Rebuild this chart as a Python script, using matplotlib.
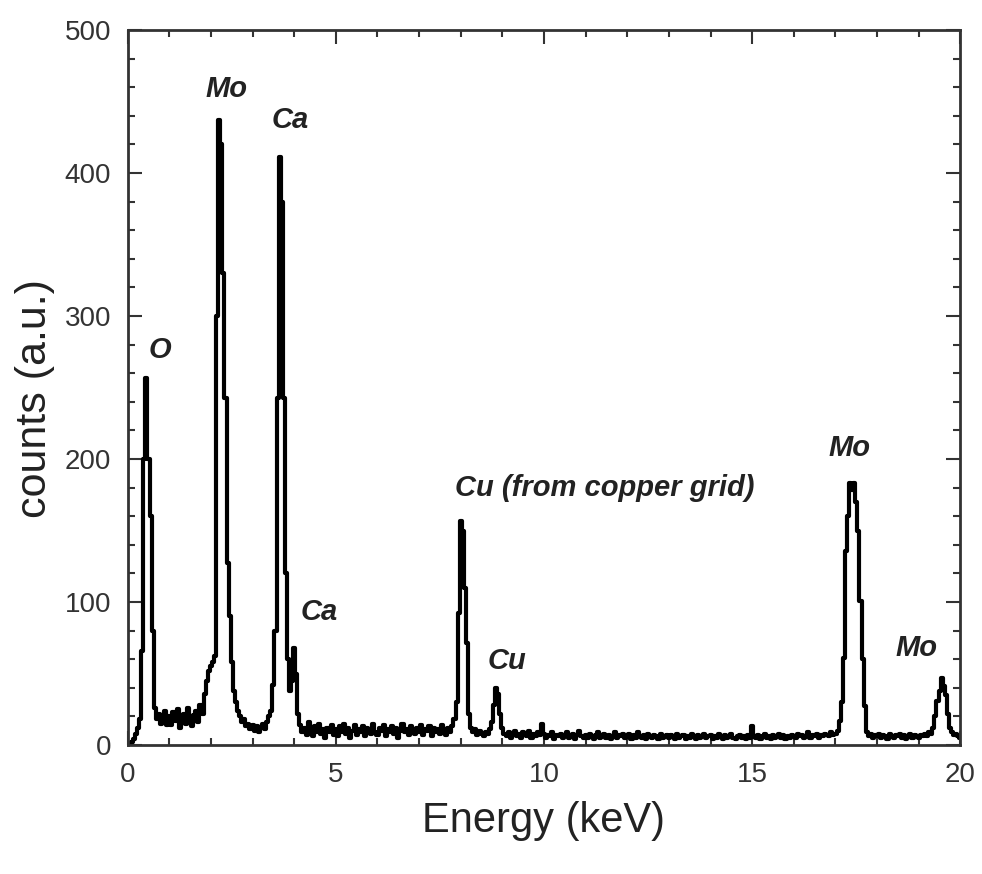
import numpy as np
import matplotlib
matplotlib.use('Agg')
import matplotlib.pyplot as plt
from matplotlib.ticker import MultipleLocator

plt.rcParams['font.family'] = ['Liberation Sans', 'DejaVu Sans']

# EDX spectrum, channels every 0.05 keV from 0 to 20 keV (one row per keV)
counts = [
    0, 1, 2, 4, 8, 12, 18, 66, 200, 257, 200, 160, 80, 26, 18, 22, 15, 20, 24, 14,
    20, 14, 23, 17, 25, 12, 19, 22, 15, 26, 18, 13, 21, 24, 16, 28, 22, 36, 45, 52,
    55, 58, 62, 300, 437, 420, 330, 243, 127, 90, 58, 38, 30, 24, 20, 16, 18, 13, 15, 11,
    14, 10, 13, 9, 12, 15, 11, 16, 20, 24, 42, 80, 243, 411, 380, 243, 120, 60, 38, 45,
    68, 50, 22, 14, 9, 12, 7, 16, 10, 6, 13, 9, 15, 8, 11, 5, 12, 9, 14, 7,
    11, 6, 13, 9, 15, 8, 12, 5, 10, 14, 7, 11, 9, 13, 6, 12, 10, 8, 15, 9,
    7, 12, 10, 14, 6, 11, 9, 13, 8, 12, 5, 10, 15, 9, 11, 7, 13, 10, 8, 12,
    9, 14, 7, 11, 10, 13, 6, 12, 9, 11, 8, 14, 10, 7, 12, 9, 13, 18, 30, 92,
    157, 150, 110, 71, 22, 12, 9, 11, 7, 10, 8, 6, 9, 8, 11, 16, 28, 40, 36, 22,
    12, 8, 6, 9, 5, 7, 10, 6, 8, 5, 9, 7, 6, 10, 5, 8, 6, 9, 7, 15,
    8, 5, 7, 6, 9, 4, 7, 6, 8, 5, 7, 9, 5, 6, 8, 4, 7, 10, 6, 5,
    7, 5, 8, 6, 4, 7, 9, 5, 6, 8, 5, 7, 4, 6, 9, 5, 7, 6, 8, 5,
    6, 8, 4, 7, 5, 9, 6, 5, 7, 4, 8, 6, 5, 7, 6, 4, 8, 5, 6, 7,
    5, 7, 6, 4, 8, 5, 6, 7, 4, 6, 5, 8, 6, 4, 7, 5, 6, 8, 5, 6,
    7, 4, 6, 5, 8, 6, 4, 7, 5, 6, 8, 5, 4, 6, 7, 5, 6, 4, 7, 5,
    13, 6, 5, 7, 4, 6, 8, 5, 6, 4, 7, 5, 6, 8, 5, 7, 4, 6, 5, 7,
    6, 5, 8, 6, 7, 5, 6, 9, 5, 7, 6, 8, 5, 7, 6, 8, 7, 6, 9, 7,
    8, 10, 17, 30, 61, 136, 160, 183, 178, 183, 170, 150, 101, 60, 27, 9, 6, 8, 5, 7,
    6, 8, 5, 7, 6, 4, 8, 6, 5, 7, 6, 8, 5, 7, 4, 6, 8, 5, 7, 6,
    5, 7, 6, 8, 6, 9, 8, 12, 20, 31, 38, 47, 41, 35, 22, 12, 9, 7, 8, 6,
    5,
]
energy = np.linspace(0, 20, len(counts))

# peak labels
label_text = ['O', 'Mo', 'Ca', 'Ca', 'Cu (from copper grid)', 'Cu', 'Mo', 'Mo']
label_x = [0.78, 2.38, 3.9, 4.6, 11.47, 9.12, 17.33, 18.95]
label_y = [276, 459, 437, 93, 180, 59, 208, 68]


def main():
    fig = plt.figure(figsize=(9.82, 8.74), dpi=100)
    ax = fig.add_axes([0.130, 0.1476, 0.848, 0.818])

    ax.plot(energy, counts, color='black', lw=3, drawstyle='steps-mid')

    for t, x, y in zip(label_text, label_x, label_y):
        ax.text(x, y, t, ha='center', va='center', fontsize=21,
                fontweight='bold', fontstyle='italic', color='#222222')

    ax.set_xlim(0, 20)
    ax.set_ylim(0, 500)
    ax.xaxis.set_major_locator(MultipleLocator(5))
    ax.xaxis.set_minor_locator(MultipleLocator(1))
    ax.yaxis.set_major_locator(MultipleLocator(100))
    ax.yaxis.set_minor_locator(MultipleLocator(20))
    ax.tick_params(which='both', direction='in', top=True, right=True,
                   width=1.5, color='#333333')
    ax.tick_params(which='major', length=10, labelsize=20, labelcolor='#333333')
    ax.tick_params(axis='x', which='major', pad=12)
    ax.tick_params(axis='y', which='major', pad=12)
    ax.tick_params(which='minor', length=5)
    for s in ax.spines.values():
        s.set_linewidth(2)
        s.set_color('#333333')

    ax.set_xlabel('Energy (keV)', fontsize=30, color='#222222')
    ax.set_ylabel('counts (a.u.)', fontsize=31, color='#222222')
    ax.xaxis.set_label_coords(0.499, -0.078)
    ax.yaxis.set_label_coords(-0.087, 0.485)

    fig.savefig('out.png', dpi=100)


if __name__ == '__main__':
    main()
